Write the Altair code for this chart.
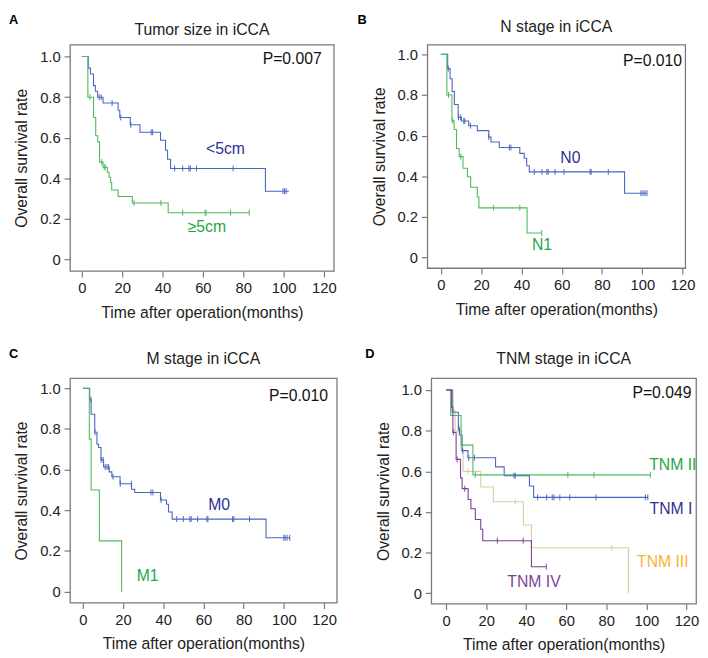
import altair as alt
import pandas as pd

FONT = "Liberation Sans"
BLUE = "#4A66C0"
NAVY = "#2E3192"
GREEN_L = "#4DBA5C"
GREEN_T = "#1FA54B"
KHAKI = "#D6D09C"
ORANGE = "#F9B233"
PURPLE = "#7E3F98"

X_TICKS = [0, 20, 40, 60, 80, 100, 120]
Y_TICKS = [0, 0.2, 0.4, 0.6, 0.8, 1.0]

# ---------- Panel A: Tumor size ----------
A_lt5_t = [0, 3.2, 4.3, 5.8, 6.7, 7.8, 10.5, 18.0, 18.8, 24.0, 28.8, 39.0, 41.5, 42.5, 44.0, 91.0, 102.6]
A_lt5_s = [1.0, 0.943, 0.914, 0.857, 0.829, 0.800, 0.771, 0.736, 0.700, 0.664, 0.627, 0.588, 0.539, 0.494, 0.449, 0.337, 0.337]
A_lt5_c = [8.6, 9.6, 15.0, 19.3, 24.3, 34.4, 35.1, 46.0, 50.0, 53.1, 53.8, 56.8, 75.0, 99.7, 100.5, 101.3]
A_ge5_t = [0, 3.0, 5.8, 6.9, 7.9, 8.8, 10.5, 12.7, 13.5, 14.3, 14.8, 18.0, 25.0, 42.8, 83.0]
A_ge5_s = [1.0, 0.80, 0.70, 0.61, 0.58, 0.48, 0.455, 0.43, 0.406, 0.38, 0.343, 0.311, 0.279, 0.231, 0.231]
A_ge5_c = [4.0, 9.9, 11.1, 11.6, 25.9, 39.2, 50.0, 61.1, 61.6, 73.7, 83.0]

# ---------- Panel B: N stage ----------
B_n0_t = [0, 3.4, 4.6, 5.6, 6.7, 8.6, 10.2, 13.8, 18.1, 23.8, 24.9, 29.0, 39.2, 41.4, 42.6, 43.9, 91.2, 102.3]
B_n0_s = [1.0, 0.930, 0.880, 0.817, 0.753, 0.690, 0.672, 0.649, 0.625, 0.593, 0.569, 0.542, 0.513, 0.489, 0.452, 0.422, 0.317, 0.317]
B_n0_c = [3.7, 8.8, 9.9, 11.4, 11.9, 14.7, 23.8, 34.0, 34.8, 46.4, 50.2, 52.6, 53.3, 56.7, 61.1, 74.1, 74.6, 83.1, 99.3, 100.3, 101.3, 102.3]
B_n1_t = [0, 3.0, 5.5, 6.6, 7.8, 9.1, 11.0, 13.2, 14.8, 18.1, 18.9, 42.8, 50.1]
B_n1_s = [1.0, 0.80, 0.673, 0.63, 0.537, 0.497, 0.44, 0.398, 0.346, 0.298, 0.245, 0.121, 0.121]
B_n1_c = [3.8, 5.9, 9.9, 26.2, 39.2, 50.1]

# ---------- Panel C: M stage ----------
C_m0_t = [0, 3.4, 4.1, 5.9, 7.0, 7.8, 9.0, 10.3, 13.1, 14.4, 18.5, 24.2, 25.8, 38.6, 41.6, 42.6, 44.4, 91.1, 102.9]
C_m0_s = [1.0, 0.944, 0.872, 0.784, 0.725, 0.709, 0.648, 0.613, 0.589, 0.565, 0.531, 0.504, 0.488, 0.451, 0.43, 0.392, 0.357, 0.265, 0.265]
C_m0_c = [4.0, 6.0, 9.1, 10.1, 11.1, 12.0, 12.8, 15.0, 18.6, 24.1, 33.9, 34.8, 38.9, 46.7, 50.0, 53.2,
          53.9, 57.1, 61.7, 62.2, 74.4, 75.1, 82.9, 100.0, 100.6, 101.6, 102.9]
C_m1_t = [0, 3.2, 4.1, 8.2, 19.3]
C_m1_s = [1.0, 0.75, 0.5, 0.25, 0.0]
C_m1_c = []

# ---------- Panel D: TNM stage ----------
D_t1_t = [0, 3.0, 6.1, 6.7, 8.0, 10.9, 24.7, 29.0, 41.6, 43.7, 100.7]
D_t1_s = [1.0, 0.891, 0.814, 0.779, 0.702, 0.667, 0.622, 0.579, 0.528, 0.472, 0.472]
D_t1_c = [6.3, 8.3, 11.3, 14.1, 33.9, 34.5, 45.7, 50.2, 53.0, 53.9, 56.8, 61.7, 74.8, 99.5, 100.7]
D_t2_t = [0, 2.3, 7.5, 13.4, 102.0]
D_t2_s = [1.0, 0.875, 0.729, 0.583, 0.583]
D_t2_c = [14.6, 60.8, 73.8, 102.0]
D_t3_t = [0, 3.5, 4.5, 7.5, 8.5, 17.3, 23.6, 38.6, 42.6, 91.0]
D_t3_s = [1.0, 0.9, 0.8, 0.7, 0.6, 0.523, 0.451, 0.336, 0.224, 0.0]
D_t3_c = [6.0, 10.8, 34.5, 82.7]
D_t4_t = [0, 2.8, 3.4, 5.0, 7.2, 8.0, 11.0, 12.4, 14.6, 17.3, 18.3, 42.6, 50.0]
D_t4_s = [1.0, 0.915, 0.792, 0.659, 0.568, 0.515, 0.462, 0.416, 0.363, 0.315, 0.259, 0.131, 0.131]
D_t4_c = [3.6, 5.5, 9.3, 25.6, 38.5, 50.0]


def step_value(t, s, x):
    v = s[0]
    for ti, si in zip(t, s):
        if ti <= x:
            v = si
    return v


def panel(letter, lx, title, ty, w, h, xdom, ydom, series, labels, pval, pxy):
    rows, cens = [], []
    for name, t, s, c, col in series:
        for i, (ti, si) in enumerate(zip(t, s)):
            rows.append(dict(g=name, t=ti, s=si, i=i, col=col))
        for ci in c:
            cens.append(dict(g=name, t=ci, s=step_value(t, s, ci), col=col))
    x = alt.X("t:Q", scale=alt.Scale(domain=xdom, nice=False, zero=False),
              axis=alt.Axis(values=X_TICKS, title="Time after operation(months)", titlePadding=9))
    y = alt.Y("s:Q", scale=alt.Scale(domain=ydom, nice=False, zero=False),
              axis=alt.Axis(values=Y_TICKS, title="Overall survival rate", titlePadding=10,
                            labelExpr="datum.value == 0 ? '0' : format(datum.value, '.1f')"))
    lines = alt.Chart(pd.DataFrame(rows)).mark_line(
        interpolate="step-after", strokeWidth=1.1).encode(
        x=x, y=y, color=alt.Color("col:N", scale=None), detail="g:N", order="i:Q")
    layers = [lines]
    if cens:
        pts = alt.Chart(pd.DataFrame(cens)).mark_point(
            shape="M0,-1L0,1", size=36, strokeWidth=1, filled=False, opacity=1).encode(
            x=x, y=y, color=alt.Color("col:N", scale=None))
        layers.append(pts)
    ldf = pd.DataFrame(labels, columns=["t", "s", "txt", "col"])
    txt = alt.Chart(ldf).mark_text(font=FONT, fontSize=16).encode(
        x=x, y=y, text="txt:N", color=alt.Color("col:N", scale=None))
    layers.append(txt)
    pdf = pd.DataFrame({"t": [pxy[0]], "s": [pxy[1]], "txt": [pval]})
    ptxt = alt.Chart(pdf).mark_text(font=FONT, fontSize=16, align="right", color="#111").encode(
        x=x, y=y, text="txt:N")
    layers.append(ptxt)
    let = alt.Chart(pd.DataFrame({"l": [letter]})).mark_text(
        font=FONT, fontSize=13, fontWeight="bold", align="left", color="#000").encode(
        x=alt.value(lx), y=alt.value(-25), text="l:N")
    layers.append(let)
    ttl = alt.Chart(pd.DataFrame({"l": [title]})).mark_text(
        font=FONT, fontSize=16, align="center", color="#222").encode(
        x=alt.value(w / 2), y=alt.value(ty), text="l:N")
    layers.append(ttl)
    return alt.layer(*layers).properties(width=w, height=h)


pA = panel("A", -62, "Tumor size in iCCA", -15, 268, 230, [-5.85, 124.9], [-0.056, 1.059],
           [("<5cm", A_lt5_t, A_lt5_s, A_lt5_c, BLUE),
            (">=5cm", A_ge5_t, A_ge5_s, A_ge5_c, GREEN_L)],
           [(71.2, 0.542, "<5cm", NAVY), (62.0, 0.160, "≥5cm", GREEN_T)],
           "P=0.007", (118.9, 0.99))
pB = panel("B", -71, "N stage in iCCA", -18, 262, 227, [-6.7, 121.3], [-0.051, 1.048],
           [("N0", B_n0_t, B_n0_s, B_n0_c, BLUE),
            ("N1", B_n1_t, B_n1_s, B_n1_c, GREEN_L)],
           [(64.3, 0.488, "N0", NAVY), (50.2, 0.064, "N1", GREEN_T)],
           "P=0.010", (119.7, 0.968))
pC = panel("C", -62, "M stage in iCCA", -20, 271, 228, [-6.4, 126.3], [-0.054, 1.049],
           [("M0", C_m0_t, C_m0_s, C_m0_c, BLUE),
            ("M1", C_m1_t, C_m1_s, C_m1_c, GREEN_L)],
           [(67.8, 0.427, "M0", NAVY), (32.2, 0.075, "M1", GREEN_T)],
           "P=0.010", (122.0, 0.963))
pD = panel("D", -67, "TNM stage in iCCA", -20, 269, 229, [-7.4, 124.8], [-0.051, 1.058],
           [("TNM III", D_t3_t, D_t3_s, D_t3_c, KHAKI),
            ("TNM I", D_t1_t, D_t1_s, D_t1_c, BLUE),
            ("TNM II", D_t2_t, D_t2_s, D_t2_c, GREEN_L),
            ("TNM IV", D_t4_t, D_t4_s, D_t4_c, PURPLE)],
           [(113.2, 0.632, "TNM II", GREEN_T), (112.3, 0.416, "TNM I", NAVY),
            (108.2, 0.152, "TNM III", ORANGE), (43.9, 0.056, "TNM IV", PURPLE)],
           "P=0.049", (122.5, 0.984))

row1 = alt.hconcat(pA, pB, spacing=19)
row2 = alt.hconcat(pC, pD, spacing=27)
chart = alt.vconcat(row1, row2, spacing=26, padding=0).configure_view(
    stroke="#7a7a7a", strokeWidth=1.3
).configure_axis(
    domain=False, grid=False, tickColor="#7a7a7a", tickSize=6, tickWidth=1.2,
    labelFont=FONT, titleFont=FONT, labelFontSize=15, titleFontSize=16,
    labelColor="#222", titleColor="#222", titleFontWeight="normal", labelPadding=4
)

chart.save("out.html", embed_options={"renderer": "svg", "actions": False})
